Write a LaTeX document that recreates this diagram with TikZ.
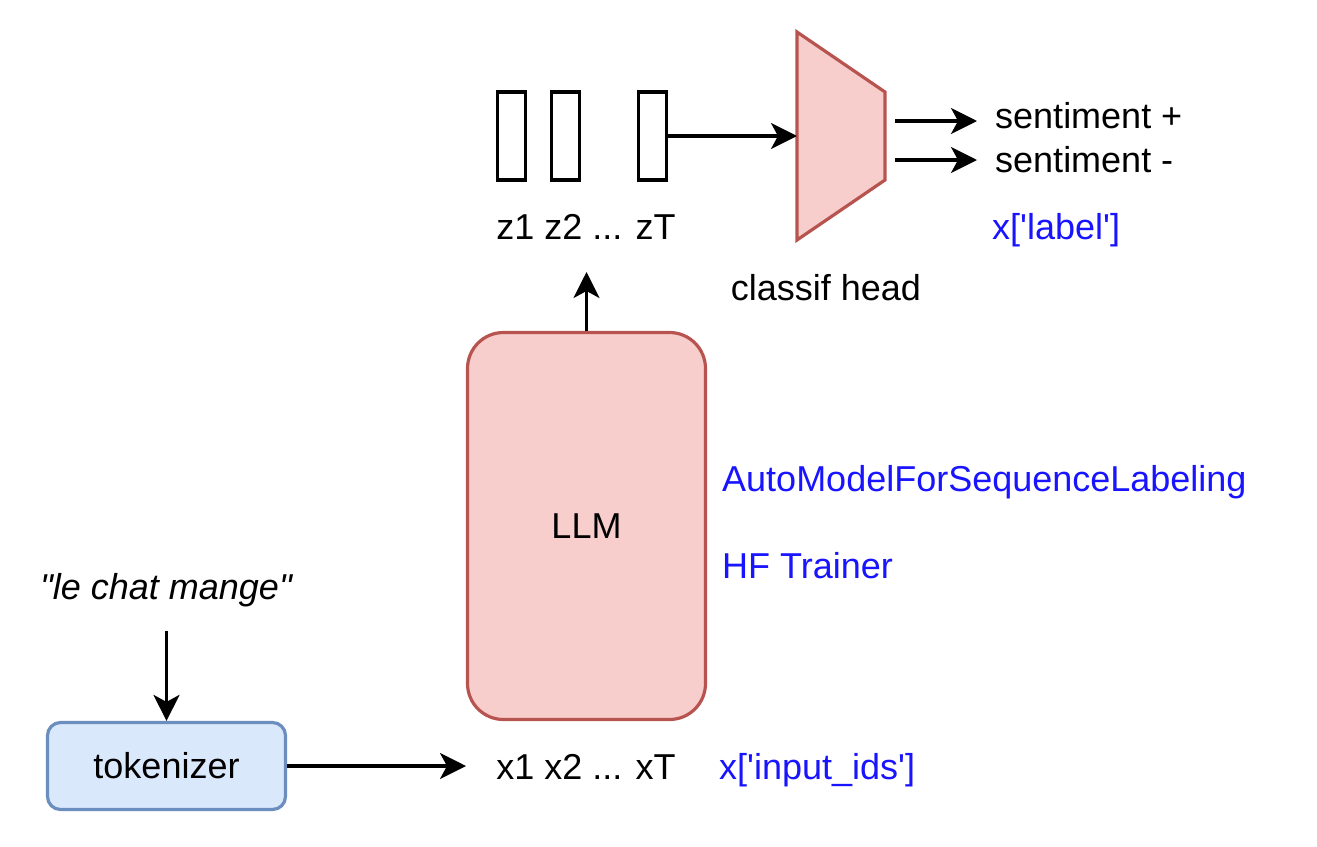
\documentclass[tikz,border=0pt]{standalone}
\usepackage{fontspec}
\setmainfont{Liberation Sans}[Ligatures=TeXOff]
\usetikzlibrary{arrows.meta}
\definecolor{redfill}{HTML}{F8CECC}
\definecolor{redline}{HTML}{B85450}
\definecolor{bluefill}{HTML}{DAE8FC}
\definecolor{blueline}{HTML}{6C8EBF}
\definecolor{codeblue}{RGB}{25,20,255}
\begin{document}
\begin{tikzpicture}[x=1pt,y=-1pt,
  lbl/.style={font=\fontsize{36}{43}\selectfont, inner sep=0pt, anchor=base},
  lblw/.style={font=\fontsize{36}{43}\selectfont, inner sep=0pt, anchor=base west},
  arr/.style={line width=3.2pt, -{Stealth[length=26pt,width=26pt,inset=7pt]}},
  zbox/.style={draw, line width=3.2pt, minimum width=28pt, minimum height=88pt, inner sep=0pt},
  redbox/.style={draw=redline, fill=redfill, line width=3.2pt},
  bluebox/.style={draw=blueline, fill=bluefill, line width=3.2pt}
]
\useasboundingbox (0,0) rectangle (1317,846);

% latent vectors
\node[zbox] (z1) at (511.5,136) {};
\node[zbox] (z2) at (565.5,136) {};
\node[zbox] (zT) at (652.5,136) {};
\node[lbl] (zl) at (586,239) {z1 z2 ... zT};

% classification head (trapezoid)
\coordinate (h1) at (797,32);
\coordinate (h2) at (885,92);
\coordinate (h3) at (885,180);
\coordinate (h4) at (797,240);
\coordinate (headW) at (797,136);
\draw[redbox, line join=miter] (h1) -- (h2) -- (h3) -- (h4) -- cycle;
\node[lbl] (ch) at (826,300) {classif head};

\draw[arr] (zT.east) -- (headW);

% outputs
\coordinate (o1s) at (895,121);
\coordinate (o1e) at (977,121);
\coordinate (o2s) at (895,160);
\coordinate (o2e) at (977,160);
\draw[arr] (o1s) -- (o1e);
\draw[arr] (o2s) -- (o2e);
\node[lblw] (sp) at (995,128) {sentiment +};
\node[lblw] (sm) at (995,172) {sentiment -};
\node[lblw, text=codeblue] (xl) at (992,239) {x['label']};

% LLM
\node[redbox, rounded corners=36pt, minimum width=238pt, minimum height=387pt,
      font=\fontsize{36}{43}\selectfont] (llm) at (586.5,526) {LLM};
\coordinate (zin) at (586.5,272);
\draw[arr] (llm.north) -- (zin);
\node[lblw, text=codeblue] (am) at (722,491) {AutoModelForSequenceLabeling};
\node[lblw, text=codeblue] (hf) at (722,578) {HF Trainer};

% input side
\node[lbl, font=\fontsize{36}{43}\selectfont\itshape] (q) at (166,599) {"le chat mange"};
\node[bluebox, rounded corners=13pt, minimum width=238pt, minimum height=87pt,
      font=\fontsize{36}{43}\selectfont] (tok) at (166.5,766) {tokenizer};
\coordinate (qs) at (166.5,631);
\draw[arr] (qs) -- (tok.north);
\coordinate (xin) at (466,766);
\draw[arr] (tok.east) -- (xin);
\node[lbl] (xl2) at (586,779) {x1 x2 ... xT};
\node[lblw, text=codeblue] (xi) at (719,779) {x['input\_ids']};
\end{tikzpicture}
\end{document}
